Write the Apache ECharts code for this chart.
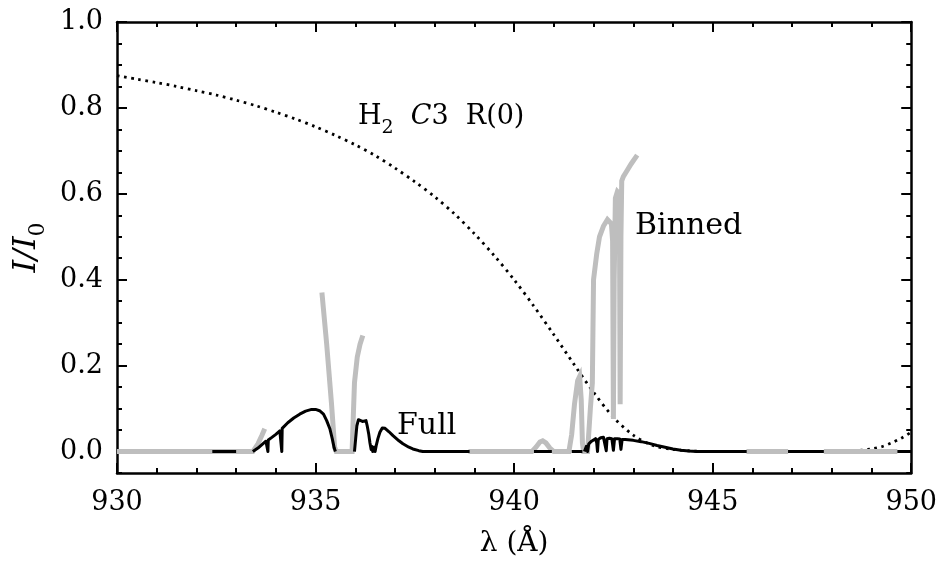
<!DOCTYPE html>
<html><head><meta charset="utf-8">
<script src="https://cdn.jsdelivr.net/npm/echarts@6/dist/echarts.min.js"></script>
<style>html,body{margin:0;padding:0;background:#fff}#c{width:940px;height:563px}</style>
</head><body><div id="c"></div><script>
const FONT = '"DejaVu Serif", "Liberation Serif", serif';
const xTickValues = [930, 935, 940, 945, 950];
const yTickValues = [0, 0.2, 0.4, 0.6, 0.8, 1.0];

// dotted H2 C3 R(0) profile
const profileX = [930,930.5,931,931.5,932,932.5,933,933.5,934,934.5,935,935.5,936,936.5,937,937.5,938,938.5,939,939.5,940,940.5,941,941.5,942,942.5,943,943.5,944,944.5,945,946,947,948,948.5,949,949.25,949.5,949.75,950];
const profileY = [0.875,0.867,0.859,0.850,0.840,0.830,0.818,0.805,0.790,0.774,0.756,0.736,0.714,0.689,0.660,0.628,0.593,0.553,0.507,0.456,0.400,0.338,0.272,0.204,0.138,0.080,0.038,0.014,0.005,0.001,0,0,0,0,0.001,0.006,0.011,0.020,0.031,0.045];

// grey "Binned" spectrum (null = gap)
const binnedX = [930,933.42,933.55,933.65,933.72, 934,
  935.16,935.28,935.40,935.48,935.52,935.92,935.95,935.98,936.05,936.12,936.19, 937,
  938.85,940.45,940.55,940.65,940.72,940.8,940.9,941.0,941.38,941.45,941.52,941.6,941.65,941.69,941.72,941.75,941.85,941.92,941.97,942.0,942.08,942.15,942.25,942.35,942.45,942.48,942.5,942.52,942.55,942.6,942.65,942.67,942.69,942.71,942.75,942.83,942.95,943.1, 944,
  945.85,946.9, 947.3, 947.8,949.65];
const binnedY = [0,0,0.018,0.038,0.053, null,
  0.37,0.25,0.113,0.01,0,0,0.08,0.16,0.22,0.25,0.27, null,
  0,0,0.01,0.022,0.025,0.02,0.008,0,0,0.04,0.11,0.165,0.175,0.12,0.02,0,0,0.1,0.16,0.4,0.46,0.5,0.525,0.54,0.53,0.49,0.076,0.4,0.59,0.605,0.6,0.11,0.5,0.63,0.64,0.652,0.67,0.69, null,
  0,0, null, 0,0];

// black "Full" spectrum (null = gap)
const fullX = [932.4,933.0, 933.2,
  933.42,933.55,933.65,933.75,933.79,933.8,933.81,933.9,934.0,934.1,934.14,934.15,934.16,934.3,934.45,934.6,934.75,934.9,935.0,935.1,935.2,935.28,935.36,935.42,935.47,935.5, 935.7,
  935.98,936.01,936.04,936.08,936.12,936.18,936.23,936.27,936.3,936.34,936.37,936.4,936.42,936.44,936.47,936.5,936.53,936.57,936.62,936.68,936.75,936.85,936.95,937.1,937.2,937.35,937.45,937.6,937.7,938.88, 939.5,
  940.5,940.95, 941.2,
  941.45,941.72, 941.74,
  941.77,941.82,941.85,941.88,941.95,942.0,942.05,942.08,942.1,942.12,942.18,942.25,942.3,942.32,942.34,942.4,942.46,942.5,942.53,942.6,942.66,942.69,942.72,942.8,943.0,943.2,943.4,943.6,943.8,944.0,944.2,944.4,944.6,945.85, 946.2,
  946.9,947.8, 948.5,
  949.65,950];
const fullY = [0,0, null,
  0,0.008,0.016,0.024,0.026,0,0.027,0.033,0.04,0.048,0.052,0,0.054,0.067,0.078,0.087,0.094,0.098,0.098,0.095,0.087,0.072,0.053,0.03,0.008,0, null,
  0,0.03,0.06,0.074,0.076,0.07,0.066,0.072,0.06,0.04,0.02,0.005,0.012,0,0.01,0,0.015,0.03,0.045,0.055,0.054,0.046,0.037,0.025,0.018,0.01,0.006,0.002,0,0, null,
  0,0, null,
  0,0, null,
  0,0.012,0,0.018,0.024,0.028,0.03,0.02,0,0.028,0.032,0.033,0.032,0.002,0.03,0.031,0.03,0.003,0.03,0.03,0.029,0.005,0.028,0.028,0.026,0.023,0.019,0.014,0.01,0.006,0.003,0.001,0,0, null,
  0,0, null,
  0,0];

function zip(xs, ys) { return xs.map((x, i) => [x, ys[i] === null ? '-' : ys[i]]); }

const chart = echarts.init(document.getElementById('c'), null, {renderer: 'canvas'});
const axisLineStyle = {color: '#000', width: 2.5};
const tickStyle = {color: '#000', width: 2};
function xAx(pos, withLabels) {
  return {
    type: 'value', min: 930, max: 950, interval: 5, position: pos,
    axisLine: {show: true, onZero: false, lineStyle: axisLineStyle},
    axisTick: {show: true, inside: true, length: 10, lineStyle: tickStyle},
    minorTick: {show: true, splitNumber: 5, length: 5, lineStyle: tickStyle},
    axisLabel: {show: withLabels, fontFamily: FONT, fontSize: 27, color: '#000', margin: 16},
    splitLine: {show: false}, minorSplitLine: {show: false},
    name: withLabels ? 'λ (Å)' : '', nameLocation: 'middle', nameGap: 57,
    nameTextStyle: {fontFamily: FONT, fontSize: 28, color: '#000'}
  };
}
function yMajor(pos, withLabels) {
  return {
    type: 'value', min: -0.05, max: 1.0, position: pos,
    axisLine: {show: true, onZero: false, lineStyle: axisLineStyle},
    axisTick: {show: true, inside: true, length: 10, lineStyle: tickStyle, customValues: yTickValues},
    axisLabel: {show: withLabels, customValues: yTickValues, fontFamily: FONT, fontSize: 27, color: '#000', margin: 14,
      formatter: v => v.toFixed(1)},
    splitLine: {show: false},
    name: withLabels ? '{i|I/I}{s|0}' : '', nameLocation: 'middle', nameGap: 58,
    nameTextStyle: {fontFamily: FONT, fontSize: 32, color: '#000', rich: {
      i: {fontFamily: FONT, fontStyle: 'italic', fontSize: 32, color: '#000', lineHeight: 44},
      s: {fontFamily: FONT, fontSize: 22, color: '#000', verticalAlign: 'bottom', lineHeight: 44}
    }}
  };
}
function yMinor(pos) {
  return {
    type: 'value', min: -0.05, max: 1.0, interval: 0.05, position: pos,
    axisLine: {show: false, onZero: false},
    axisTick: {show: true, inside: true, length: 5, lineStyle: tickStyle},
    axisLabel: {show: false}, splitLine: {show: false}
  };
}

chart.setOption({
  animation: false,
  backgroundColor: '#fff',
  grid: {left: 117, right: 28, top: 22, bottom: 85, containLabel: false},
  xAxis: [xAx('bottom', true), xAx('top', false)],
  yAxis: [yMajor('left', true), yMinor('left'), yMajor('right', false), yMinor('right')],
  series: [
    {name: 'H2 C3 R(0)', type: 'line', data: zip(profileX, profileY), showSymbol: false, smooth: 0.3,
      lineStyle: {color: '#000', width: 2.8, type: [2.6, 4.6], cap: 'butt'}, z: 1},
    {name: 'Binned', type: 'line', data: zip(binnedX, binnedY), showSymbol: false, connectNulls: false,
      lineStyle: {color: '#bebebe', width: 5, cap: 'butt', join: 'miter'}, z: 2},
    {name: 'Full', type: 'line', data: zip(fullX, fullY), showSymbol: false, connectNulls: false,
      lineStyle: {color: '#000', width: 3, join: 'round'}, z: 3}
  ],
  graphic: [
    {type: 'text', x: 635, y: 226, style: {text: 'Binned', font: '30px ' + FONT, fill: '#000', verticalAlign: 'middle'}},
    {type: 'text', x: 397, y: 426, style: {text: 'Full', font: '30px ' + FONT, fill: '#000', verticalAlign: 'middle'}},
    {type: 'text', x: 358, y: 117, style: {
      text: '{a|H}{s|2}{a|  }{i|C}{a|3  R(0)}', verticalAlign: 'middle', fill: '#000',
      rich: {
        a: {fontFamily: FONT, fontSize: 27, fill: '#000', lineHeight: 42},
        i: {fontFamily: FONT, fontSize: 27, fontStyle: 'italic', fill: '#000', lineHeight: 42},
        s: {fontFamily: FONT, fontSize: 19, fill: '#000', verticalAlign: 'bottom', lineHeight: 42}
      }}}
  ]
});
</script></body></html>
